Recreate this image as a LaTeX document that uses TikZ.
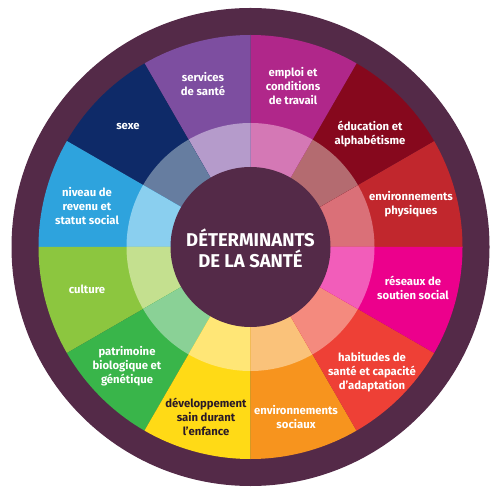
\documentclass[tikz,border=0pt]{standalone}
\usepackage{fontspec}
\newfontfamily\lab{Fira Sans}
\definecolor{plum}{HTML}{542A48}
\definecolor{dtext}{HTML}{2A1A28}
\definecolor{cEnvP}{HTML}{C1272D}
\definecolor{cEdu}{HTML}{86081D}
\definecolor{cEmp}{HTML}{B0278A}
\definecolor{cServ}{HTML}{7D4EA0}
\definecolor{cSexe}{HTML}{0E2A68}
\definecolor{cRev}{HTML}{2EA3DD}
\definecolor{cCult}{HTML}{8CC63F}
\definecolor{cPat}{HTML}{39B54A}
\definecolor{cDev}{HTML}{FFDA16}
\definecolor{cEnvS}{HTML}{F7941E}
\definecolor{cHab}{HTML}{EE4036}
\definecolor{cRes}{HTML}{EC008C}
\definecolor{lEnvP}{HTML}{DA7078}
\definecolor{lEdu}{HTML}{B46B70}
\definecolor{lEmp}{HTML}{D478B5}
\definecolor{lServ}{HTML}{B59BCB}
\definecolor{lSexe}{HTML}{667DA0}
\definecolor{lRev}{HTML}{8ACFEF}
\definecolor{lCult}{HTML}{C4E08F}
\definecolor{lPat}{HTML}{8AD196}
\definecolor{lDev}{HTML}{FFE676}
\definecolor{lEnvS}{HTML}{FAC27A}
\definecolor{lHab}{HTML}{F48A7E}
\definecolor{lRes}{HTML}{F25DBA}
\tikzset{
  lbl/.style={text=white, align=center, inner sep=0pt,
    font=\lab\bfseries\fontsize{11.3}{14}\selectfont},
  title/.style={text=white, align=center, inner sep=0pt,
    font=\lab\bfseries\fontsize{18.5}{21.5}\selectfont}
}
\begin{document}
\begin{tikzpicture}[x=1pt,y=1pt]
\useasboundingbox (0,0) rectangle (500,498);
\coordinate (C) at (250.5,251);
\fill[plum] (C) circle[radius=239];
\foreach \a/\c/\l in {0/cEnvP/lEnvP,30/cEdu/lEdu,60/cEmp/lEmp,90/cServ/lServ,120/cSexe/lSexe,150/cRev/lRev,180/cCult/lCult,210/cPat/lPat,240/cDev/lDev,270/cEnvS/lEnvS,300/cHab/lHab,330/cRes/lRes}{
  \fill[\c] (C) -- ++(\a:212) arc[start angle=\a, end angle=\a+30, radius=212] -- cycle;
  \fill[\l] (C) -- ++(\a:124) arc[start angle=\a, end angle=\a+30, radius=124] -- cycle;
}
\node[circle, fill=plum, minimum size=160pt, inner sep=0pt] (centre) at (C) {};
\node[title] (titre) at (250.5,249.5) {DÉTERMINANTS\\DE LA SANTÉ};
\node[lbl] (serv) at (203,414) {services\\de santé};
\node[lbl] (emp) at (293,412) {emploi et\\conditions\\de travail};
\node[lbl] (edu) at (370,364) {éducation et\\alphabétisme};
\node[lbl] (envp) at (411,294) {environnements\\physiques};
\node[lbl] (res) at (413,210) {réseaux de\\soutien social};
\node[lbl] (hab) at (372,126) {habitudes de\\santé et capacité\\d’adaptation};
\node[lbl] (envs) at (296,81) {environnements\\sociaux};
\node[lbl, text=dtext] (dev) at (206,81) {développement\\sain durant\\l’enfance};
\node[lbl] (pat) at (127,132) {patrimoine\\biologique et\\génétique};
\node[lbl] (cult) at (87,209) {culture};
\node[lbl] (rev) at (87,292) {niveau de\\revenu et\\statut social};
\node[lbl] (sexe) at (128,371) {sexe};
\end{tikzpicture}
\end{document}
